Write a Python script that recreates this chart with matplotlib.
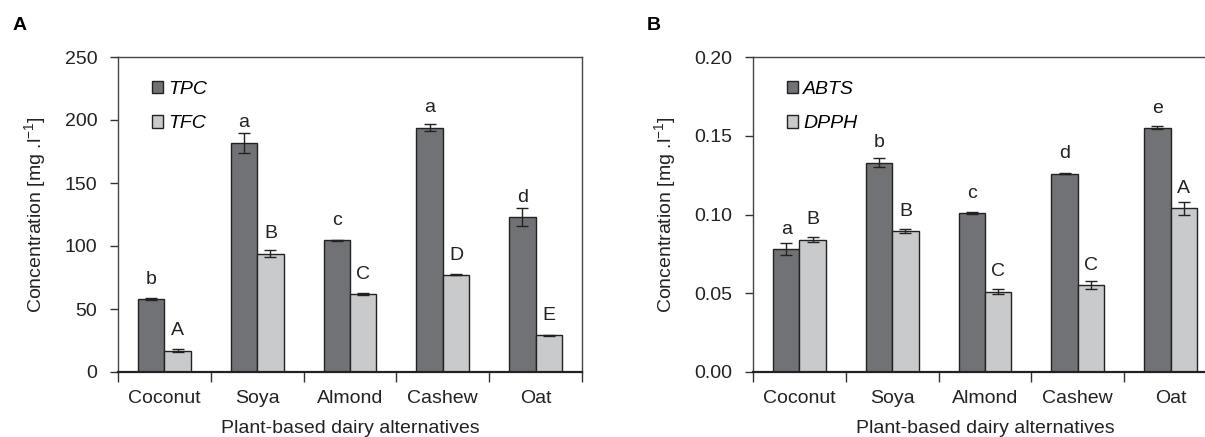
import numpy as np
import matplotlib
matplotlib.use('Agg')
import matplotlib.pyplot as plt

plt.rcParams['font.family'] = ['Liberation Sans', 'DejaVu Sans']
plt.rcParams['mathtext.default'] = 'regular'

# data
categories = ['Coconut', 'Soya', 'Almond', 'Cashew', 'Oat']

tpc = [58, 182, 104.5, 194, 123]
tpc_err = [0.6, 8, 0.6, 3, 7]
tpc_letters = ['b', 'a', 'c', 'a', 'd']
tfc = [17, 94, 62, 77, 29]
tfc_err = [1.5, 3, 0.6, 0.4, 0.6]
tfc_letters = ['A', 'B', 'C', 'D', 'E']

abts = [0.078, 0.133, 0.101, 0.126, 0.155]
abts_err = [0.004, 0.003, 0.0005, 0.0004, 0.001]
abts_letters = ['a', 'b', 'c', 'd', 'e']
dpph = [0.084, 0.0895, 0.051, 0.055, 0.104]
dpph_err = [0.0015, 0.001, 0.0015, 0.0025, 0.004]
dpph_letters = ['B', 'B', 'C', 'C', 'A']

DARK = '#717275'
LIGHT = '#c9cacc'
W = 0.285
FS = 14


def draw_panel(ax, s1, e1, l1, s2, e2, l2, names, ymax, yticks, ylabels):
    x = np.arange(len(categories))
    # bars with error bars
    ax.bar(x - W / 2, s1, W, color=DARK, edgecolor='#222222', linewidth=1, label=names[0], zorder=2)
    ax.bar(x + W / 2, s2, W, color=LIGHT, edgecolor='#222222', linewidth=1, label=names[1], zorder=2)
    ax.errorbar(x - W / 2, s1, yerr=e1, fmt='none', ecolor='#222222', elinewidth=1, capsize=4.5, capthick=1, zorder=3)
    ax.errorbar(x + W / 2, s2, yerr=e2, fmt='none', ecolor='#222222', elinewidth=1, capsize=4.5, capthick=1, zorder=3)

    # significance letters
    for xi, v, t in zip(x - W / 2, s1, l1):
        ax.annotate(t, (xi, v), xytext=(0, 11), textcoords='offset points',
                    ha='center', va='baseline', fontsize=FS, color='#222222')
    for xi, v, t in zip(x + W / 2, s2, l2):
        ax.annotate(t, (xi, v), xytext=(0, 11), textcoords='offset points',
                    ha='center', va='baseline', fontsize=FS, color='#222222')

    ax.set_xlim(-0.5, len(categories) - 0.5)
    ax.set_ylim(0, ymax)
    ax.set_yticks(yticks)
    ax.set_yticklabels(ylabels)
    ax.set_xticks(np.arange(-0.5, len(categories), 1.0))
    ax.set_xticklabels([])
    ax.set_xticks(x, minor=True)
    ax.set_xticklabels(categories, minor=True)
    ax.tick_params(axis='x', which='major', direction='out', length=7, width=1, color='#333333')
    ax.tick_params(axis='x', which='minor', length=0, pad=13, labelsize=FS, labelcolor='#222222')
    ax.tick_params(axis='y', direction='out', length=6, width=1, color='#333333', pad=9,
                   labelsize=FS, labelcolor='#222222')

    for side in ['top', 'right', 'left']:
        ax.spines[side].set_color('#444444')
        ax.spines[side].set_linewidth(1)
    ax.spines['bottom'].set_color('#222222')
    ax.spines['bottom'].set_linewidth(1.6)

    ax.set_xlabel('Plant-based dairy alternatives', fontsize=FS, color='#222222', labelpad=9)
    ax.set_ylabel('Concentration [mg .l$^{-1}$]', fontsize=FS, color='#222222', labelpad=12)

    leg = ax.legend(loc='upper left', bbox_to_anchor=(0.035, 0.98), frameon=False,
                    handlelength=0.6, handleheight=0.6, handletextpad=0.25,
                    labelspacing=0.9, fontsize=FS, prop={'style': 'italic', 'size': FS})
    for h in leg.legend_handles:
        h.set_edgecolor('#222222')
        h.set_linewidth(1)


fig = plt.figure(figsize=(12.05, 4.37), dpi=100)

axA = fig.add_axes([118 / 1205, 65 / 437, 464 / 1205, 315 / 437])
draw_panel(axA, tpc, tpc_err, tpc_letters, tfc, tfc_err, tfc_letters,
           ['TPC', 'TFC'], 250, [0, 50, 100, 150, 200, 250],
           ['0', '50', '100', '150', '200', '250'])

axB = fig.add_axes([753 / 1205, 65 / 437, 464 / 1205, 315 / 437])
draw_panel(axB, abts, abts_err, abts_letters, dpph, dpph_err, dpph_letters,
           ['ABTS', 'DPPH'], 0.20, [0, 0.05, 0.10, 0.15, 0.20],
           ['0.00', '0.05', '0.10', '0.15', '0.20'])

fig.text(13 / 1205, 1 - 26 / 437, 'A', fontsize=14, fontweight='bold', va='center', ha='left')
fig.text(647 / 1205, 1 - 26 / 437, 'B', fontsize=14, fontweight='bold', va='center', ha='left')

fig.savefig('out.png', dpi=100)
